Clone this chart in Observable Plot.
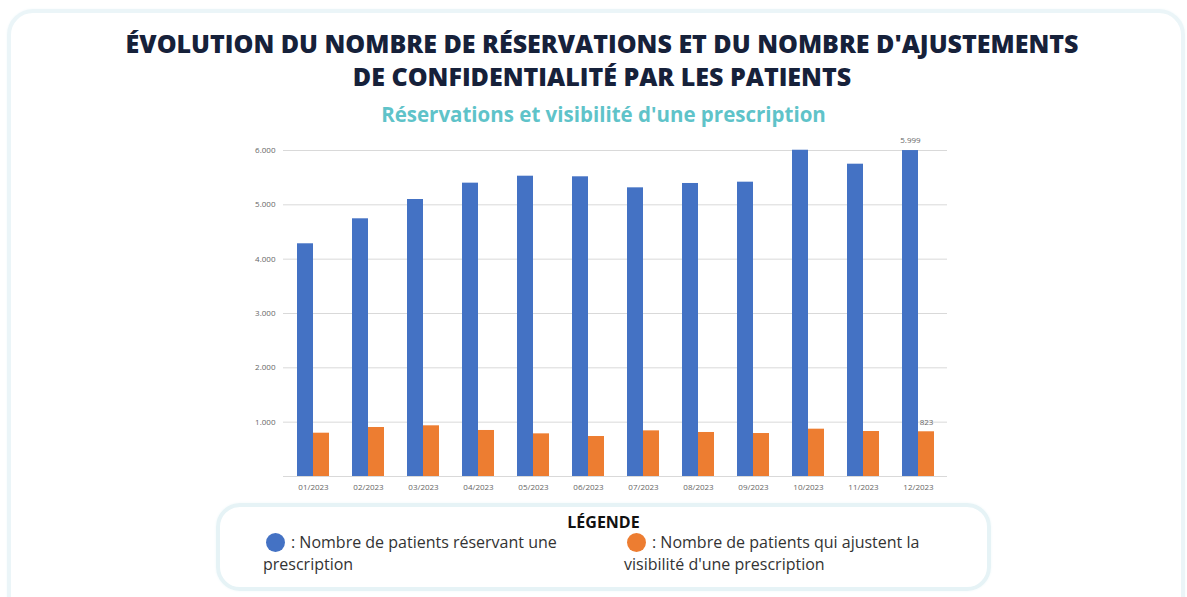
<!DOCTYPE html>
<html lang="fr">
<head>
<meta charset="utf-8">
<script src="https://cdn.jsdelivr.net/npm/d3@7"></script>
<script src="https://cdn.jsdelivr.net/npm/@observablehq/plot@0.6"></script>
<style>
  html, body { margin: 0; padding: 0; background: #ffffff; }
  body { width: 1187px; height: 597px; overflow: hidden; position: relative; font-family: "Open Sans", sans-serif; }
  .card { position: absolute; left: 7px; top: 9px; width: 1170px; height: 640px; border: 4px solid #ebf5f8; border-radius: 26px; box-shadow: 0 0 3px #f3f9fb; }
  .title { position: absolute; left: 10px; top: 27px; width: 1184px; text-align: center; font-weight: 800; font-size: 25px; line-height: 33px; color: #16213a; white-space: nowrap; }
  .subtitle { position: absolute; left: 10px; top: 100px; width: 1187px; text-align: center; font-weight: 700; font-size: 20.5px; line-height: 28px; color: #5fc3c9; white-space: nowrap; }
  #chart { position: absolute; left: 0; top: 130px; }
  .legend { position: absolute; left: 216px; top: 503px; width: 767px; height: 80px; border: 4px solid #e6f3f6; border-radius: 24px; box-shadow: 0 0 3px #f1f8fa; }
  .legend-title { position: absolute; left: 215px; top: 511px; width: 777px; text-align: center; font-weight: 700; font-size: 16px; line-height: 22px; color: #111111; }
  .item { position: absolute; top: 531px; font-size: 16px; line-height: 22px; color: #333333; white-space: nowrap; }
  .dot { display: inline-block; width: 19px; height: 19px; border-radius: 50%; vertical-align: -4px; margin-left: 3px; margin-right: 6px; }
</style>
</head>
<body>
<div class="card"></div>
<div class="title">ÉVOLUTION DU NOMBRE DE RÉSERVATIONS ET DU NOMBRE D'AJUSTEMENTS<br>DE CONFIDENTIALITÉ PAR LES PATIENTS</div>
<div class="subtitle">Réservations et visibilité d'une prescription</div>
<div id="chart"></div>
<div class="legend"></div>
<div class="legend-title">LÉGENDE</div>
<div class="item" style="left:263px"><span class="dot" style="background:#4472C4"></span>: Nombre de patients réservant une<br>prescription</div>
<div class="item" style="left:624px"><span class="dot" style="background:#ED7D31"></span>: Nombre de patients qui ajustent la<br>visibilité d'une prescription</div>
<script>
const months = ["01/2023","02/2023","03/2023","04/2023","05/2023","06/2023","07/2023","08/2023","09/2023","10/2023","11/2023","12/2023"];
const reservations = [4283, 4743, 5098, 5399, 5527, 5516, 5313, 5393, 5417, 6005, 5748, 5999];
const ajustements = [797, 902, 933, 847, 785, 736, 840, 810, 791, 871, 828, 823];
const yTicks = [1000, 2000, 3000, 4000, 5000, 6000];

const data = months.map((m, i) => ({month: m, res: reservations[i], adj: ajustements[i]}));
const last = [data[data.length - 1]];
const fmt = d => d3.format(",")(d).replace(/,/g, ".");

const chart = Plot.plot({
  width: 1187,
  height: 370,
  marginTop: 20,
  marginBottom: 24,
  marginLeft: 283,
  marginRight: 240,
  style: {fontFamily: "'Open Sans', sans-serif", fontSize: "8px", color: "#666666", background: "transparent"},
  x: {domain: months, paddingInner: 0.42, paddingOuter: 0.21, label: null, tickSize: 0, tickPadding: 8},
  y: {domain: [0, 6000], ticks: yTicks, tickFormat: fmt, label: null, tickSize: 0, tickPadding: 8},
  marks: [
    Plot.gridY(yTicks, {stroke: "#d9d9d9", strokeOpacity: 1}),
    Plot.ruleY([0], {stroke: "#d9d9d9", strokeOpacity: 1}),
    Plot.barY(data, {x: "month", y: "res", fill: "#4472C4", insetRight: 16}),
    Plot.barY(data, {x: "month", y: "adj", fill: "#ED7D31", insetLeft: 16}),
    Plot.text(last, {x: "month", y: "res", text: d => fmt(d.res), dx: -8, dy: -10, fill: "#666666", fontSize: 8}),
    Plot.text(last, {x: "month", y: "adj", text: d => fmt(d.adj), dx: 8, dy: -9, fill: "#666666", fontSize: 8})
  ]
});
document.getElementById("chart").appendChild(chart);
</script>
</body>
</html>
